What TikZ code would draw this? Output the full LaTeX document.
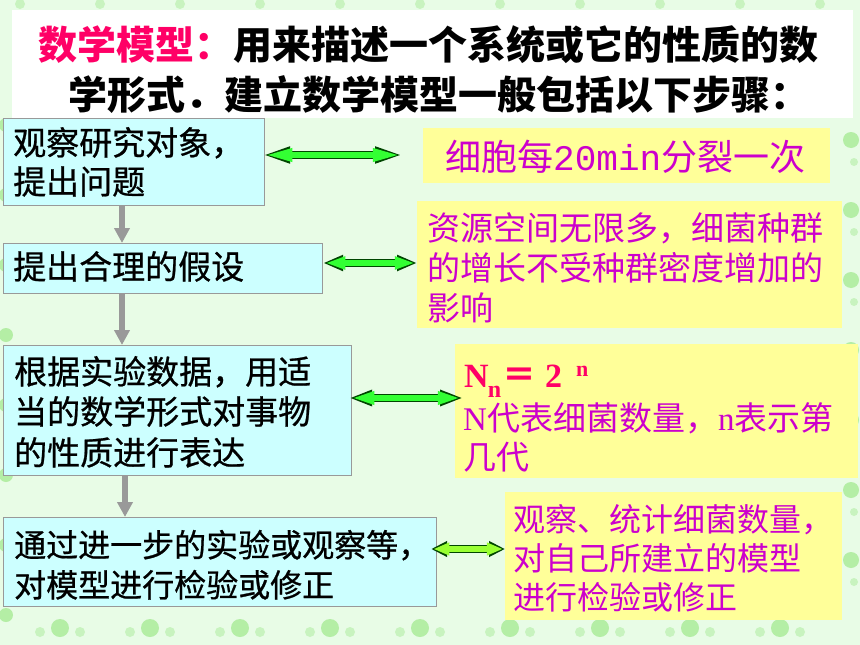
\documentclass[tikz,border=0pt]{standalone}
\usepackage{fontspec}
\newfontfamily\cjk{Noto Sans CJK SC}
\newfontfamily\cjkm{Noto Sans CJK SC}[FakeBold=0.7]
\newfontfamily\serifL{Liberation Serif}
\newfontfamily\monoL{Liberation Mono}
\usetikzlibrary{arrows.meta,calc}
\definecolor{bg}{RGB}{232,252,230}
\definecolor{deco}{RGB}{180,238,165}
\definecolor{cyanbox}{RGB}{204,255,255}
\definecolor{yelbox}{RGB}{255,255,153}
\definecolor{pinkred}{RGB}{255,0,102}
\definecolor{mag}{RGB}{204,0,204}
\definecolor{arrgreen}{RGB}{51,255,51}
\definecolor{arrlime}{RGB}{153,255,51}
\definecolor{arredge}{RGB}{0,70,0}
\definecolor{flowgray}{RGB}{153,153,153}
\newcommand\dblarr[4]{%
  \draw[line width=8.5pt, draw=arredge, {Triangle[length=#3pt,width=15pt]}-{Triangle[length=#3pt,width=15pt]}] (#1) -- (#2);
  \draw[line width=6pt, draw=#4, {Triangle[length=#3pt,width=12pt]}-{Triangle[length=#3pt,width=12pt]}] ($(#1)+(2.2,0)$) -- ($(#2)+(-2.2,0)$);}
\begin{document}
\begin{tikzpicture}[x=1pt,y=-1pt,
  cbox/.style={draw=flowgray, line width=1.2pt, fill=cyanbox, inner sep=0, anchor=north west},
  ybox/.style={fill=yelbox, inner sep=0, anchor=north west},
  title/.style={anchor=base west, inner sep=0, font=\cjk\bfseries\fontsize{39}{39}\selectfont},
  ltxt/.style={anchor=base west, inner sep=0, text=black, font=\cjkm\fontsize{#1}{#1}\selectfont},
  rtxt/.style={anchor=base west, inner sep=0, text=mag, font=\cjk\fontsize{#1}{#1}\selectfont},
  garrow/.style={draw=flowgray, line width=6pt, -{Triangle[length=15pt,width=15pt]}}]
\useasboundingbox (0,0) rectangle (860,645);
\fill[bg] (0,0) rectangle (860,645);
% floral border hints
\foreach \x in {60,150,...,780} {
  \fill[deco] (\x,628) circle (9);
  \fill[deco,opacity=.6] (\x-20,632) circle (5);
  \fill[deco,opacity=.6] (\x+20,632) circle (5);}
\foreach \y in {140,210,...,610} {
  \fill[deco] (851,\y) circle (8);
  \fill[deco,opacity=.6] (854,\y+22) circle (4);}
\foreach \y in {125,195,...,615} {\fill[deco] (6,\y) circle (7);}
\foreach \x in {20,100,...,840} {\fill[deco,opacity=.6] (\x,4) circle (5);}
% title
\node[fill=white, inner sep=0, anchor=north west, minimum width=841pt, minimum height=108pt] (tb) at (12,10) {};
\node[title] (t1) at (38,59.8) {\textcolor{pinkred}{数学模型：}用来描述一个系统或它的性质的数};
\node[title] (t2) at (68,109.8) {学形式．建立数学模型一般包括以下步骤：};
% left boxes
\node[cbox, minimum width=261pt, minimum height=87pt] (b1) at (3,118) {};
\node[cbox, minimum width=319pt, minimum height=50pt] (b2) at (3,243) {};
\node[cbox, minimum width=348pt, minimum height=130pt] (b3) at (3,345) {};
\node[cbox, minimum width=433pt, minimum height=89pt] (b4) at (3,517) {};
% right boxes
\node[ybox, minimum width=407pt, minimum height=55pt] (rA) at (423,128) {};
\node[ybox, minimum width=425pt, minimum height=127pt] (rB) at (417,201) {};
\node[ybox, minimum width=403pt, minimum height=134pt] (rC) at (455,344) {};
\node[ybox, minimum width=337pt, minimum height=128pt] (rD) at (505,492) {};
% gray flow arrows
\coordinate (g1) at (122,0);
\coordinate (g2) at (125,0);
\draw[garrow] (b1.south -| g1) -- (b2.north -| g1);
\draw[garrow] (b2.south -| g1) -- (b3.north -| g1);
\draw[garrow] (b3.south -| g2) -- (b4.north -| g2);
% green double arrows
\coordinate (yA) at (0,155);
\coordinate (yB) at (0,263);
\coordinate (yC) at (0,398);
\coordinate (yD) at (0,549);
\coordinate (aA1) at ($(b1.east |- yA)+(-3,0)$);
\coordinate (aA2) at ($(rA.west |- yA)+(-20,0)$);
\coordinate (aB1) at (b2.east |- yB);
\coordinate (aB2) at (rB.west |- yB);
\coordinate (aC1) at ($(b3.east |- yC)+(-3,0)$);
\coordinate (aC2) at ($(rC.west |- yC)+(8,0)$);
\coordinate (aD1) at ($(b4.east |- yD)+(-6,0)$);
\coordinate (aD2) at (rD.west |- yD);
\dblarr{aA1}{aA2}{28}{arrgreen}
\dblarr{aB1}{aB2}{20}{arrgreen}
\dblarr{aC1}{aC2}{23}{arrgreen}
\dblarr{aD1}{aD2}{16}{arrlime}
% left texts
\node[ltxt=33] (l11) at (13,155) {观察研究对象，};
\node[ltxt=33] (l12) at (13,194) {提出问题};
\node[ltxt=33] (l21) at (13,279) {提出合理的假设};
\node[ltxt=33] (l31) at (14,384) {根据实验数据，用适};
\node[ltxt=33] (l32) at (14,424) {当的数学形式对事物};
\node[ltxt=33] (l33) at (14,465) {的性质进行表达};
\node[ltxt=32] (l41) at (14,557) {通过进一步的实验或观察等，};
\node[ltxt=32] (l42) at (14,597) {对模型进行检验或修正};
% right texts
\node[rtxt=36] (tA) at (445,170.7) {细胞每{\monoL 20min}分裂一次};
\node[rtxt=33] (tB1) at (427,240.5) {资源空间无限多，细菌种群};
\node[rtxt=33] (tB2) at (427,280.5) {的增长不受种群密度增加的};
\node[rtxt=33] (tB3) at (427,320.5) {影响};
\node[anchor=base west, inner sep=0, text=pinkred] (fml) at (464,387)
  {\serifL\bfseries\fontsize{34}{34}\selectfont N\kern-1pt\lower10pt\hbox{\fontsize{24}{24}\selectfont n}\kern1pt{\cjk\bfseries ＝}\kern9pt 2\kern14pt\raise11pt\hbox{\fontsize{22}{22}\selectfont n}};
\node[rtxt=33] (tC1) at (463,430.5) {{\serifL N}代表细菌数量，{\serifL n}表示第};
\node[rtxt=33] (tC2) at (463,469.5) {几代};
\node[rtxt=32] (tD1) at (513,531) {观察、统计细菌数量，};
\node[rtxt=32] (tD2) at (513,570) {对自己所建立的模型};
\node[rtxt=32] (tD3) at (513,609) {进行检验或修正};
\end{tikzpicture}
\end{document}
